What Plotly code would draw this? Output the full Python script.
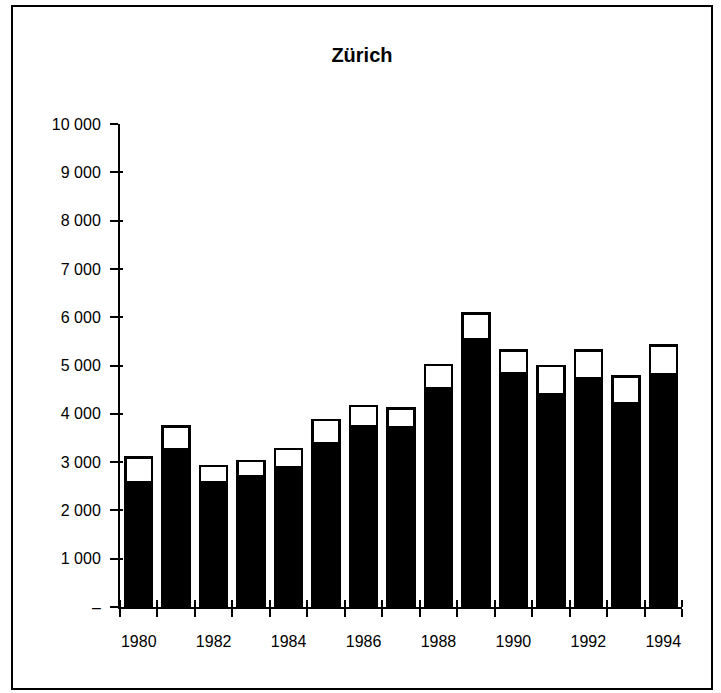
import plotly.graph_objects as go

# ---------- data ----------
years = [1980, 1981, 1982, 1983, 1984, 1985, 1986, 1987,
         1988, 1989, 1990, 1991, 1992, 1993, 1994]
# lower (black) part of each bar
lower = [2590, 3270, 2590, 2710, 2890, 3390, 3750, 3730,
         4530, 5550, 4840, 4410, 4730, 4220, 4810]
# upper (white) part stacked on top
upper = [510, 470, 330, 310, 380, 480, 410, 380,
         480, 530, 470, 580, 580, 550, 600]

y_ticks = [0, 1000, 2000, 3000, 4000, 5000, 6000, 7000, 8000, 9000, 10000]
y_ticktext = ["–", "1 000", "2 000", "3 000", "4 000", "5 000",
              "6 000", "7 000", "8 000", "9 000", "10 000"]
x_labels = [1980, 1982, 1984, 1986, 1988, 1990, 1992, 1994]

FONT = "Liberation Sans, Arial, Helvetica, sans-serif"

# tick marks sit on the boundaries between bars
boundaries = [y - 0.5 for y in years] + [years[-1] + 0.5]
x_range = [years[0] - 0.5, years[-1] + 0.5]

fig = go.Figure()

fig.add_trace(go.Bar(
    x=years, y=lower,
    marker=dict(color="black", line=dict(color="black", width=2.5)),
    showlegend=False,
))
fig.add_trace(go.Bar(
    x=years, y=upper,
    marker=dict(color="white", line=dict(color="black", width=2.5)),
    showlegend=False,
))
# empty trace so the overlay axes (inside tick halves) get drawn
fig.add_trace(go.Scatter(x=[], y=[], xaxis="x2", yaxis="y2",
                         showlegend=False, hoverinfo="skip"))

axis_font = dict(family=FONT, size=16, color="black")

fig.update_layout(
    width=721, height=693,
    barmode="stack",
    bargap=0.28,
    paper_bgcolor="white",
    plot_bgcolor="white",
    margin=dict(l=120, r=39, t=124, b=86),
    font=dict(family=FONT, color="black"),
    title=dict(
        text="<b>Zürich</b>",
        font=dict(family=FONT, size=20, color="black"),
        x=0.502, xanchor="center",
        y=1 - 55 / 693, yanchor="middle",
    ),
    xaxis=dict(
        range=x_range,
        tickmode="array",
        tickvals=x_labels,
        ticktext=[str(v) for v in x_labels],
        ticks="",
        ticklabelstandoff=19,
        tickfont=axis_font,
        minor=dict(tickmode="array", tickvals=boundaries,
                   ticks="outside", ticklen=8, tickwidth=2,
                   tickcolor="black", showgrid=False),
        showline=True, linecolor="black", linewidth=2,
        showgrid=False, zeroline=False,
        fixedrange=True,
    ),
    xaxis2=dict(
        range=x_range, overlaying="x", anchor="y",
        tickmode="array", tickvals=[], showticklabels=False,
        minor=dict(tickmode="array", tickvals=boundaries,
                   ticks="inside", ticklen=7, tickwidth=2,
                   tickcolor="black", showgrid=False),
        showline=False, showgrid=False, zeroline=False,
    ),
    yaxis=dict(
        range=[0, 10000],
        tickmode="array",
        tickvals=y_ticks,
        ticktext=y_ticktext,
        ticks="outside", ticklen=8, tickwidth=2, tickcolor="black",
        ticklabelstandoff=6,
        tickfont=axis_font,
        showline=True, linecolor="black", linewidth=2,
        showgrid=False, zeroline=False,
        fixedrange=True,
    ),
    yaxis2=dict(
        range=[0, 10000], overlaying="y", anchor="x",
        tickmode="array", tickvals=y_ticks, showticklabels=False,
        ticks="inside", ticklen=3, tickwidth=2, tickcolor="black",
        showline=False, showgrid=False, zeroline=False,
    ),
    shapes=[dict(
        type="rect", xref="paper", yref="paper",
        x0=(12 - 120) / 562, x1=(712 - 120) / 562,
        y0=(607 - 689) / 483, y1=(607 - 6) / 483,
        line=dict(color="black", width=2),
        fillcolor="rgba(0,0,0,0)",
    )],
)

# drop the page's default body margin so the figure sits at (0, 0)
fig.write_html("out.html",
               config={"displayModeBar": False},
               post_script="document.body.style.margin='0';")
